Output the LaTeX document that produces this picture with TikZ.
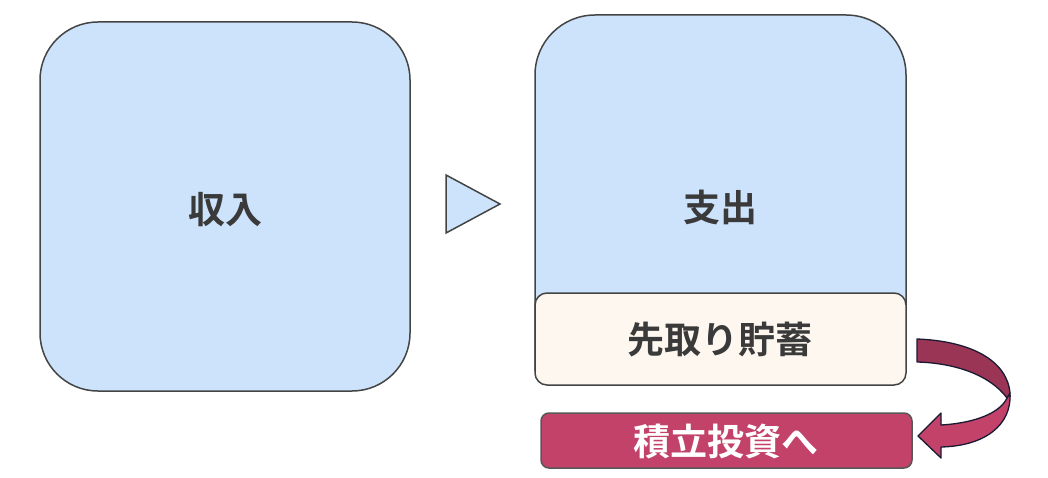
\documentclass[tikz,border=0pt]{standalone}
\usepackage{fontspec}
\newfontfamily\jpb{Noto Sans CJK JP Bold}
\definecolor{boxblue}{HTML}{CCE3FB}
\definecolor{boxedge}{HTML}{444444}
\definecolor{beige}{HTML}{FDF7F0}
\definecolor{rose}{HTML}{C2426A}
\definecolor{darkrose}{HTML}{9B3556}
\definecolor{navy}{HTML}{1A1A33}
\definecolor{txt}{HTML}{3A3A3A}
\begin{document}
\begin{tikzpicture}[x=1pt,y=-1pt,
  bluebox/.style={draw=boxedge,fill=boxblue,line width=1.5pt},
  lbl/.style={font=\jpb\fontsize{37}{42}\selectfont,text=txt},
  arrowpart/.style={draw=navy,line width=1.3pt,line join=round}]
\useasboundingbox (0,0) rectangle (1048,478);
% income box
\draw[bluebox,rounded corners=58pt] (40,22) rectangle (410,391);
\node[lbl] (income) at (225,210) {収入};
% triangle
\draw[bluebox,line join=miter] (446,175) coordinate (t1) -- (446,233) -- (500,204) coordinate (tip) -- cycle;
% expense box
\draw[bluebox] (535,370) -- (535,75) arc[start angle=180,end angle=270,radius=60] -- (846,15) arc[start angle=270,end angle=360,radius=60] -- (906,370) -- cycle;
\node[lbl] (expense) at (720,207) {支出};
% savings
\draw[draw=boxedge,fill=beige,line width=1.5pt,rounded corners=12pt] (535,293) rectangle (906,385);
\node[lbl] (saving) at (720,340) {先取り貯蓄};
% invest
\draw[draw=boxedge!90,fill=rose,line width=1.5pt,rounded corners=8pt] (541,413) rectangle (912,468);
\node[lbl,text=white] (invest) at (726,442) {積立投資へ};
% curved arrow
\draw[arrowpart,fill=rose] (1010,393) .. controls (1012,425) and (985,446) .. (941,447) -- (941,458) -- (918,436) -- (941,413) -- (941,425) .. controls (975,423) and (1000,413) .. (1007,398) -- cycle;
\draw[arrowpart,fill=darkrose] (917,339) .. controls (970,341) and (1007,360) .. (1010,393) -- (1007,398) .. controls (990,375) and (955,363) .. (917,362) -- cycle;
\end{tikzpicture}
\end{document}
